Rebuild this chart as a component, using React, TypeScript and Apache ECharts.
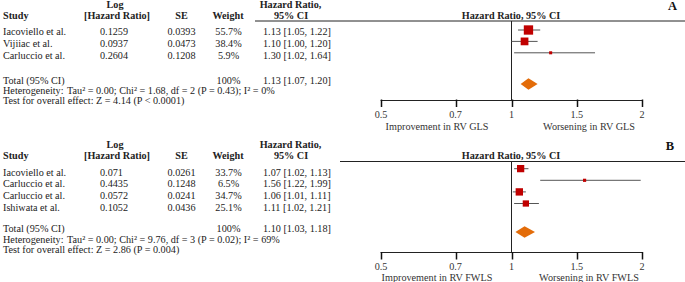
import React, { useEffect, useRef } from "react";
import * as echarts from "echarts";

// ---------- data ----------
const TICK_VALUES = [0.5, 0.7, 1, 1.5, 2];
const COLUMN_HEADERS = ["Study", "Log", "[Hazard Ratio]", "SE", "Weight", "Hazard Ratio,", "95% CI"];
const PLOT_TITLE = "Hazard Ratio, 95% CI";

// Panel A (RV GLS)
const studiesA = ["Iacoviello et al.", "Vijiiac et al.", "Carluccio et al."];
const logHrA = [0.1259, 0.0937, 0.2604];
const seA = [0.0393, 0.0473, 0.1208];
const weightA = [55.7, 38.4, 5.9];
const hrA = [1.13, 1.1, 1.3];
const lowA = [1.05, 1.0, 1.02];
const highA = [1.22, 1.2, 1.64];
const totalA = [1.13, 1.07, 1.2];
const hetA = "Tau² = 0.00; Chi² = 1.68, df = 2 (P = 0.43); I² = 0%";
const testA = "Test for overall effect: Z = 4.14 (P < 0.0001)";
const favoursA = ["Improvement in RV GLS", "Worsening in RV GLS"];

// Panel B (RV FWLS)
const studiesB = ["Iacoviello et al.", "Carluccio et al.", "Carluccio et al.", "Ishiwata et al."];
const logHrB = [0.071, 0.4435, 0.0572, 0.1052];
const seB = [0.0261, 0.1248, 0.0241, 0.0436];
const weightB = [33.7, 6.5, 34.7, 25.1];
const hrB = [1.07, 1.56, 1.06, 1.11];
const lowB = [1.02, 1.22, 1.01, 1.02];
const highB = [1.13, 1.99, 1.11, 1.21];
const totalB = [1.1, 1.03, 1.18];
const hetB = "Tau² = 0.00; Chi² = 9.76, df = 3 (P = 0.02); I² = 69%";
const testB = "Test for overall effect: Z = 2.86 (P = 0.004)";
const favoursB = ["Improvement in RV FWLS", "Worsening in RV FWLS"];

// ---------- helpers ----------
// axis transform used by the original figure: linear in HR above 1, linear in 1/HR below 1
const tf = (x: number) => (x >= 1 ? x - 1 : 1 - 1 / x);

const FONT = '"Liberation Serif", "Times New Roman", serif';
const TEXT = "#222";
const SQUARE = "#C00000";
const DIAMOND = "#E36C09";
const LINE = "#555";
const AXIS = "#222";

const GRID_LEFT = 381;
const GRID_WIDTH = 261;
const TICK_LEN = 7;

type Panel = {
  studies: string[];
  logHr: number[];
  se: number[];
  weight: number[];
  hr: number[];
  low: number[];
  high: number[];
  total: number[];
  het: string;
  test: string;
  favours: string[];
  letter: string;
  L: {
    lineX0: number;
    gridTop: number;
    axisY: number;
    firstRowY: number;
    rowStep: number;
    totalIdx: number;
    header1Y: number;
    header2Y: number;
    tableRow0: number;
    tableStep: number;
    totalY: number;
    hetY: number;
    testY: number;
    letterY: number;
    letterX: number;
    favY: number;
  };
};

const panels: Panel[] = [
  {
    studies: studiesA, logHr: logHrA, se: seA, weight: weightA, hr: hrA, low: lowA, high: highA,
    total: totalA, het: hetA, test: testA, favours: favoursA, letter: "A",
    L: {
      lineX0: 255, gridTop: 21, axisY: 100, firstRowY: 30, rowStep: 11.4, totalIdx: 4.74,
      header1Y: 4.5, header2Y: 15.3, tableRow0: 31.7, tableStep: 11.65,
      totalY: 80, hetY: 90.7, testY: 100.8, letterY: 5.5, letterX: 672.5, favY: 126,
    },
  },
  {
    studies: studiesB, logHr: logHrB, se: seB, weight: weightB, hr: hrB, low: lowB, high: highB,
    total: totalB, het: hetB, test: testB, favours: favoursB, letter: "B",
    L: {
      lineX0: 340, gridTop: 161.5, axisY: 252.5, firstRowY: 168.7, rowStep: 11.6, totalIdx: 5.46,
      header1Y: 144.2, header2Y: 155.5, tableRow0: 172.2, tableStep: 11.75,
      totalY: 228.8, hetY: 239.8, testY: 249.5, letterY: 145.5, letterX: 670, favY: 277,
    },
  },
];

function txt(text: string, x: number, y: number, align = "left", bold = false, size = 10.2, fill = TEXT) {
  return {
    type: "text",
    x,
    y,
    silent: true,
    style: {
      text,
      fill,
      fontFamily: FONT,
      fontSize: size,
      fontWeight: bold ? "bold" : "normal",
      textAlign: align,
      textVerticalAlign: "middle",
      align,
      verticalAlign: "middle",
    },
  };
}

function buildOption() {
  const grid: any[] = [];
  const xAxis: any[] = [];
  const yAxis: any[] = [];
  const series: any[] = [];
  const graphic: any[] = [];

  panels.forEach((p, i) => {
    const L = p.L;
    const yMin = -(L.firstRowY - L.gridTop) / L.rowStep;
    const yMax = (L.axisY - L.firstRowY) / L.rowStep;

    grid.push({
      left: GRID_LEFT,
      width: GRID_WIDTH,
      top: L.gridTop,
      height: L.axisY - L.gridTop,
      containLabel: false,
      outerBoundsMode: "none",
    });
    xAxis.push({
      type: "value",
      gridIndex: i,
      min: -1,
      max: 1,
      position: "bottom",
      splitLine: { show: false },
      axisLine: { show: true, onZero: false, lineStyle: { color: AXIS, width: 1 } },
      axisTick: { show: false },
      axisLabel: {
        customValues: TICK_VALUES.map(tf),
        formatter: (v: number) => {
          const k = TICK_VALUES.findIndex((t) => Math.abs(tf(t) - v) < 1e-6);
          return k >= 0 ? String(TICK_VALUES[k]) : "";
        },
        fontFamily: FONT,
        fontSize: 10.2,
        color: "#333",
        margin: 9,
        hideOverlap: false,
      },
    });
    yAxis.push({
      type: "value",
      gridIndex: i,
      inverse: true,
      min: yMin,
      max: yMax,
      show: false,
    });

    // reference line at HR = 1
    series.push({
      type: "line",
      xAxisIndex: i,
      yAxisIndex: i,
      data: [[tf(1), yMin], [tf(1), yMax]],
      symbol: "none",
      silent: true,
      lineStyle: { color: AXIS, width: 1 },
      z: 1,
    });

    // axis ticks at the labelled hazard ratios (pointing down from the axis)
    series.push({
      type: "custom",
      xAxisIndex: i,
      yAxisIndex: i,
      silent: true,
      clip: false,
      z: 6,
      data: TICK_VALUES.map((t) => [tf(t), yMax]),
      encode: { x: 0, y: 1 },
      renderItem: (_params: any, api: any) => {
        const c = api.coord([api.value(0), api.value(1)]);
        const x = Math.round(c[0]) + 0.5;
        return {
          type: "rect",
          shape: { x: x - 0.75, y: c[1] - 0.5, width: 1.5, height: TICK_LEN + 0.5 },
          style: { fill: "#111" },
        };
      },
    });

    // study CIs and weighted squares
    series.push({
      type: "custom",
      xAxisIndex: i,
      yAxisIndex: i,
      silent: true,
      z: 3,
      data: p.hr.map((h, k) => [tf(h), k, tf(p.low[k]), tf(p.high[k]), 1.25 * Math.sqrt(p.weight[k])]),
      encode: { x: 0, y: 1 },
      renderItem: (_params: any, api: any) => {
        const y = api.value(1);
        const c = api.coord([api.value(0), y]);
        const lo = api.coord([api.value(2), y]);
        const hi = api.coord([api.value(3), y]);
        const s = api.value(4);
        return {
          type: "group",
          children: [
            {
              type: "line",
              shape: { x1: lo[0], y1: lo[1], x2: hi[0], y2: hi[1] },
              style: { stroke: LINE, lineWidth: 1 },
            },
            {
              type: "rect",
              shape: { x: c[0] - s / 2, y: c[1] - s / 2, width: s, height: s },
              style: { fill: SQUARE },
            },
          ],
        };
      },
    });

    // pooled diamond
    series.push({
      type: "custom",
      xAxisIndex: i,
      yAxisIndex: i,
      silent: true,
      z: 3,
      data: [[tf(p.total[0]), L.totalIdx, tf(p.total[1]), tf(p.total[2])]],
      encode: { x: 0, y: 1 },
      renderItem: (_params: any, api: any) => {
        const y = api.value(1);
        const c = api.coord([api.value(0), y]);
        const lo = api.coord([api.value(2), y]);
        const hi = api.coord([api.value(3), y]);
        const h = 5.8;
        return {
          type: "polygon",
          shape: { points: [[lo[0], lo[1]], [c[0], c[1] - h], [hi[0], hi[1]], [c[0], c[1] + h]] },
          style: { fill: DIAMOND },
        };
      },
    });

    // header rule
    graphic.push({
      type: "line",
      silent: true,
      shape: { x1: L.lineX0, y1: L.gridTop, x2: 685, y2: L.gridTop },
      style: { stroke: AXIS, lineWidth: 1 },
    });

    // table headers
    graphic.push(txt(COLUMN_HEADERS[0], 3, L.header2Y, "left", true));
    graphic.push(txt(COLUMN_HEADERS[1], 115, L.header1Y, "center", true));
    graphic.push(txt(COLUMN_HEADERS[2], 117, L.header2Y, "center", true));
    graphic.push(txt(COLUMN_HEADERS[3], 181.5, L.header2Y, "center", true));
    graphic.push(txt(COLUMN_HEADERS[4], 228, L.header2Y, "center", true));
    graphic.push(txt(COLUMN_HEADERS[5], 290.5, L.header1Y, "center", true));
    graphic.push(txt(COLUMN_HEADERS[6], 291, L.header2Y, "center", true));
    graphic.push(txt(PLOT_TITLE, 511, L.header2Y - 0.3, "center", true));
    graphic.push(txt(p.letter, L.letterX, L.letterY, "center", true, 12.5, "#111"));

    // table rows
    p.studies.forEach((s, k) => {
      const y = L.tableRow0 + k * L.tableStep;
      graphic.push(txt(s, 3, y));
      graphic.push(txt(String(p.logHr[k]), 100, y));
      graphic.push(txt(p.se[k].toFixed(4), 181.5, y, "center"));
      graphic.push(txt(p.weight[k].toFixed(1) + "%", 228.5, y, "center"));
      graphic.push(
        txt(`${p.hr[k].toFixed(2)} [${p.low[k].toFixed(2)}, ${p.high[k].toFixed(2)}]`, 263, y)
      );
    });

    // totals
    graphic.push(txt("Total (95% CI)", 3, L.totalY));
    graphic.push(txt("100%", 228.5, L.totalY, "center"));
    graphic.push(
      txt(`${p.total[0].toFixed(2)} [${p.total[1].toFixed(2)}, ${p.total[2].toFixed(2)}]`, 263, L.totalY)
    );
    graphic.push(txt("Heterogeneity:", 3, L.hetY));
    graphic.push(txt(p.het, 67, L.hetY));
    graphic.push(txt(p.test, 3, L.testY));

    // favours labels
    graphic.push(txt(p.favours[0], 437, L.favY, "center", false, 10.2, "#333"));
    graphic.push(txt(p.favours[1], 589, L.favY, "center", false, 10.2, "#333"));
  });

  return {
    animation: false,
    backgroundColor: "#ffffff",
    grid,
    xAxis,
    yAxis,
    series,
    graphic: { elements: graphic },
  };
}

export default function App() {
  const ref = useRef<HTMLDivElement>(null);
  useEffect(() => {
    if (!ref.current) return;
    const chart = echarts.init(ref.current, undefined, { renderer: "svg" });
    chart.setOption(buildOption() as any);
    return () => chart.dispose();
  }, []);
  return (
    <div
      ref={ref}
      style={{ position: "fixed", left: 0, top: 0, width: 685, height: 282, background: "#fff" }}
    />
  );
}
